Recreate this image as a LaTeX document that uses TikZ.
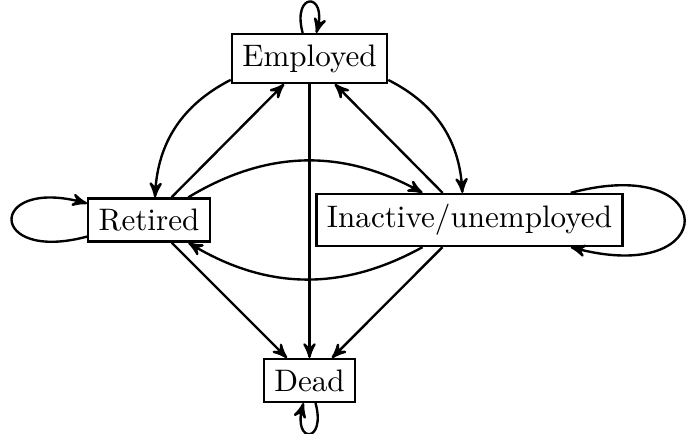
\documentclass[tikz,border=0pt]{standalone}
\usetikzlibrary{arrows}
\begin{document}
\begin{tikzpicture}[x=0.3367pt,y=0.3367pt,
  state/.style={draw,rectangle,thick,font=\fontsize{10.47}{12.5}\selectfont,inner sep=3.5pt},
  every path/.style={thick},
  every loop/.style={min distance=5mm},
  >=stealth']
\useasboundingbox (0,0) rectangle (691,-434);
\node[state] (E) at (309.5,-58.5) {Employed};
\node[state] (R) at (149,-220) {Retired};
\node[state] (I) at (469.5,-220) {Inactive/unemployed};
\node[state] (D) at (309.5,-380.5) {Dead};
\draw[->] (E) edge[loop above] (E);
\draw[->] (R) edge[loop left] (R);
\draw[->] (I) edge[loop right,looseness=7.4] (I);
\draw[->] (D) edge[loop below] (D);
\draw[->] (E) to[bend right] (R);
\draw[->] (R) -- (E);
\draw[->] (E) to[bend left] (I);
\draw[->] (I) -- (E);
\draw[->] (E) -- (D);
\draw[->] (R) to[bend left] (I);
\draw[->] (I) to[bend left] (R);
\draw[->] (R) -- (D);
\draw[->] (I) -- (D);
\end{tikzpicture}
\end{document}
